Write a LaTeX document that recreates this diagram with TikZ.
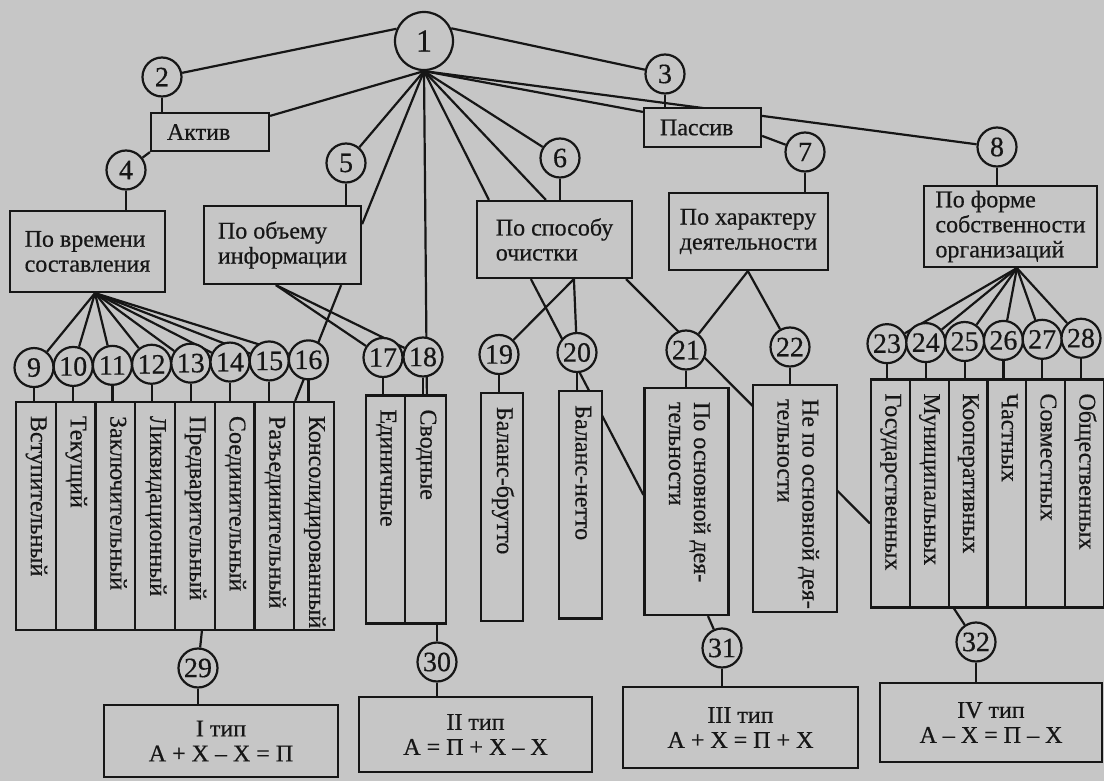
\documentclass[tikz,border=0pt]{standalone}
\usepackage{fontspec}
\setmainfont{Liberation Serif}[FakeBold=0.5]
\usetikzlibrary{calc}
\definecolor{bgc}{RGB}{198,198,198}
\definecolor{ink}{RGB}{22,22,22}
\newcommand\lbl{\fontsize{24}{25}\selectfont}
\newcommand\numf{\fontsize{28}{28}\selectfont}
\newcommand\vlab[2]{\rotatebox{-90}{\makebox[#1pt][l]{\begin{tabular}{@{}l@{}}#2\end{tabular}}}}
\pgfdeclarelayer{bg}
\pgfsetlayers{bg,main}
\begin{document}
\begin{tikzpicture}[x=1pt,y=-1pt,line width=2.2pt,ink,
  circ/.style={circle,draw=ink,fill=bgc,inner sep=0pt,minimum size=39pt,font=\numf,text=ink},
  hbox/.style={rectangle,draw=ink,fill=bgc,inner xsep=4pt,inner ysep=0pt,align=left,font=\lbl,text=ink},
  col/.style={rectangle,draw=ink,fill=bgc,inner sep=0pt,font=\lbl,text=ink},
  tbox/.style={rectangle,draw=ink,fill=bgc,inner sep=0pt,align=center,font=\lbl,text=ink},
  conn/.style={draw=ink,line width=2.2pt}]
\useasboundingbox (0,0) rectangle (1104,781);
% ---- top level
\node[circ,minimum size=58pt,font=\fontsize{32}{32}\selectfont] (n1) at (424,41) {1};
\node[circ] (n2) at (162,77) {2};
\node[circ] (n3) at (665,74) {3};
\node[hbox,minimum height=38pt,text width=86pt,inner xsep=16pt] (akt) at (210,132) {Актив};
\node[hbox,minimum height=39pt,text width=85pt,inner xsep=16pt] (pas) at (702.5,127.5) {Пассив};
\node[circ] (n4) at (126,170) {4};
\node[circ] (n5) at (346,163) {5};
\node[circ] (n6) at (560,158) {6};
\node[circ] (n7) at (805,152) {7};
\node[circ] (n8) at (997,147) {8};
\node[hbox,minimum width=155pt,minimum height=81pt] (time) at (87.5,251.5) {По времени\\составления};
\node[hbox,minimum width=157pt,minimum height=78pt] (vol) at (282.5,245) {По объему\\информации};
\node[hbox,minimum width=155pt,minimum height=77pt] (spo) at (554.5,239.5) {По способу\\очистки};
\node[hbox,minimum width=159pt,minimum height=77pt] (har) at (748.5,231.5) {По характеру\\деятельности};
\node[hbox,minimum width=173pt,minimum height=81pt] (form) at (1010.5,226.5) {По форме\\собственности\\организаций};
% ---- columns 9-16
\foreach \k/\t [count=\i from 0] in {9/Вступительный,10/Текущий,11/Заключительный,12/Ликвидационный,13/Предварительный,14/Соединительный,15/Разъединительный,16/Консолидированный}{
  \pgfmathsetmacro\xc{16+39.75*(\i+0.5)}
  \pgfmathsetmacro\xn{34+39.2*\i}
  \pgfmathsetmacro\yn{368.5-0.028*\xn}
  \node[col,minimum width=39.75pt,minimum height=228pt] (c\k) at (\xc,516) {\vlab{200}{\t}};
  \node[circ] (n\k) at (\xn,\yn) {\k};
}
% ---- columns 17-18
\node[col,minimum width=39pt,minimum height=228pt] (c17) at (385.5,509.5) {\vlab{200}{Единичные}};
\node[col,minimum width=41pt,minimum height=228pt] (c18) at (425.5,509.5) {\vlab{200}{Сводные}};
\node[circ] (n17) at (383,357.5) {17};
\node[circ] (n18) at (423,357) {18};
% ---- 19-22
\node[col,minimum width=42pt,minimum height=228pt] (c19) at (502,507) {\vlab{200}{Баланс-брутто}};
\node[circ] (n19) at (499,354.5) {19};
\node[col,minimum width=43pt,minimum height=227.5pt] (c20) at (580.5,504.75) {\vlab{199}{Баланс-нетто}};
\node[circ] (n20) at (577,352.5) {20};
\node[col,minimum width=84pt,minimum height=227pt] (c21) at (686.5,501.5) {\vlab{199}{По основной дея-\\тельности}};
\node[circ] (n21) at (686,350) {21};
\node[col,minimum width=84pt,minimum height=227pt] (c22) at (795,498.5) {\vlab{199}{Не по основной дея-\\тельности}};
\node[circ] (n22) at (790,347) {22};
% ---- columns 23-28
\foreach \k/\t [count=\i from 0] in {23/Государственных,24/Муниципальных,25/Кооперативных,26/Частных,27/Совместных,28/Общественных}{
  \pgfmathsetmacro\xc{871+38.8*(\i+0.5)}
  \pgfmathsetmacro\xn{887+38.8*\i}
  \pgfmathsetmacro\yn{368.5-0.028*\xn}
  \node[col,minimum width=38.8pt,minimum height=228pt] (c\k) at (\xc,493.5) {\vlab{200}{\t}};
  \node[circ] (n\k) at (\xn,\yn) {\k};
}
% ---- bottom
\node[circ] (n29) at (198,668) {29};
\node[circ] (n30) at (437,662) {30};
\node[circ] (n31) at (722,648) {31};
\node[circ] (n32) at (976,642) {32};
\node[tbox,minimum width=234pt,minimum height=72pt] (t1) at (221,741) {I тип\\А + Х – Х = П};
\node[tbox,minimum width=233pt,minimum height=75pt] (t2) at (475.5,734.5) {II тип\\А = П + Х – Х};
\node[tbox,minimum width=235pt,minimum height=81pt] (t3) at (740.5,727.5) {III тип\\А + Х = П + Х};
\node[tbox,minimum width=222pt,minimum height=79pt] (t4) at (991,722.5) {IV тип\\А – Х = П – Х};
% ---- connectors
\begin{pgfonlayer}{bg}
\fill[bgc] (0,0) rectangle (1104,781);
\coordinate (fT) at ($(time.south)+(7.5,0)$);
\coordinate (fV) at ($(vol.south west)+(73,0)$);
\coordinate (fVr) at ($(vol.south east)+(-21,0)$);
\coordinate (fS) at ($(spo.south west)+(98,0)$);
\coordinate (fSl) at ($(spo.south west)+(55,0)$);
\coordinate (fSr) at ($(spo.south east)+(-7,0)$);
\coordinate (fH) at ($(har.south west)+(80,0)$);
\coordinate (fF) at ($(form.south west)+(94,0)$);
\draw[conn] (n1.156) -- (n2);
\draw[conn] (n1.25) -- (n3);
\draw[conn] (n1.south) -- ($(akt.north east)+(0,4)$);
\draw[conn] (n2) -- (n2 |- akt.north);
\draw[conn] (akt.south west) -- (n4);
\draw[conn] (n1.south) -- (n5);
\draw[conn] (n1.south) -- ($(vol.north east)!0.24!(vol.south east)$);
\draw[conn] (n1.south) -- ($(c18.north west)+(23,0)$);
\draw[conn] (n1.south) -- ($(spo.north west)+(13,0)$);
\draw[conn] (n1.south) -- ($(spo.north west)+(70,0)$);
\draw[conn] (n1.south) -- (n6);
\draw[conn] (n1.south) -- ($(pas.north west)+(0,5)$);
\draw[conn] (n1.south) -- (n8);
\draw[conn] (n3) -- (n3 |- pas.north);
\draw[conn] ($(pas.north east)+(0,29)$) -- (n7);
\draw[conn] (n4) -- (n4 |- time.north);
\draw[conn] (n5) -- (n5 |- vol.north);
\draw[conn] (n6) -- (n6 |- spo.north);
\draw[conn] (n7) -- (n7 |- har.north);
\draw[conn] (n8) -- (n8 |- form.north);
\foreach \k in {9,...,16}{\draw[conn] (fT) -- (n\k);}
\draw[conn] (fV) -- (n17);
\draw[conn] (fV) -- (n18);
\draw[conn] (fVr) -- ($(c16.north west)+(2,0)$);
\foreach \k in {9,...,28}{\draw[conn] (n\k) -- (n\k |- c\k.north);}
\draw[conn] (fS) -- (n19);
\draw[conn] (fS) -- (n20);
\draw[conn] (fSl) -- ($(c21.north west)+(0,108)$);
\draw[conn] (fSr) -- ($(c23.north west)+(0,145)$);
\draw[conn] (fH) -- (n21);
\draw[conn] (fH) -- (n22);
\foreach \k in {23,...,28}{\draw[conn] (fF) -- (n\k);}
\draw[conn] (n29) -- ($(c13.south)+(7,0)$);
\draw[conn] (n29) -- (n29 |- t1.north);
\draw[conn] (n30) -- (n30 |- c18.south);
\draw[conn] (n30) -- (n30 |- t2.north);
\draw[conn] (n31) -- ($(c21.south)+(21.5,0)$);
\draw[conn] (n31) -- (n31 |- t3.north);
\draw[conn] (n32) -- ($(c25.south)+(-14,0)$);
\draw[conn] (n32) -- (n32 |- t4.north);
\end{pgfonlayer}
\end{tikzpicture}
\end{document}
